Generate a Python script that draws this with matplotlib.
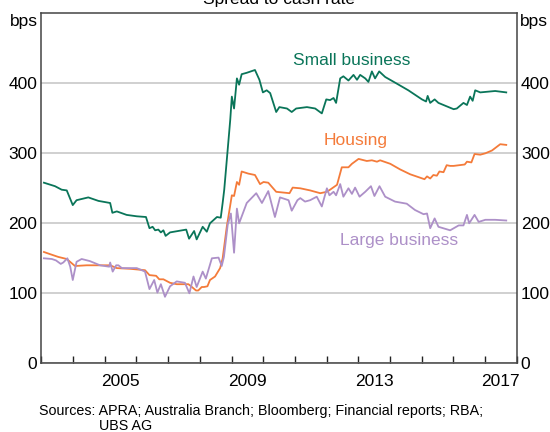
import matplotlib
matplotlib.use("Agg")
import matplotlib.pyplot as plt

plt.rcParams['font.family'] = ['Liberation Sans', 'DejaVu Sans']

# (year, bps)
small_business = [
    (2003.08, 258), (2003.43, 253), (2003.64, 248), (2003.80, 247), (2003.99, 226),
    (2004.11, 233), (2004.48, 237), (2004.80, 232), (2005.17, 229), (2005.24, 215),
    (2005.38, 217), (2005.69, 212), (2006.01, 210), (2006.30, 209), (2006.41, 193),
    (2006.51, 195), (2006.59, 190), (2006.69, 191), (2006.77, 187), (2006.85, 190),
    (2006.92, 182), (2007.06, 187), (2007.57, 191), (2007.66, 178), (2007.82, 189),
    (2007.90, 177), (2008.09, 195), (2008.22, 188), (2008.32, 200), (2008.54, 209),
    (2008.66, 208), (2008.72, 229), (2008.77, 248), (2008.85, 290), (2008.96, 348),
    (2009.01, 381), (2009.08, 364), (2009.17, 407), (2009.24, 398), (2009.32, 413),
    (2009.48, 415), (2009.74, 419), (2009.88, 405), (2009.99, 387), (2010.11, 390),
    (2010.22, 386), (2010.41, 359), (2010.51, 366), (2010.75, 364), (2010.90, 359),
    (2011.04, 364), (2011.38, 366), (2011.64, 364), (2011.85, 357), (2011.99, 377),
    (2012.11, 376), (2012.22, 379), (2012.30, 372), (2012.43, 407), (2012.53, 410),
    (2012.69, 404), (2012.85, 412), (2012.96, 405), (2013.06, 412), (2013.22, 407),
    (2013.32, 402), (2013.43, 417), (2013.53, 407), (2013.66, 417), (2013.85, 409),
    (2014.16, 401), (2014.58, 390), (2015.01, 377), (2015.14, 374), (2015.19, 382),
    (2015.27, 372), (2015.41, 377), (2015.53, 372), (2016.01, 363), (2016.11, 364),
    (2016.32, 372), (2016.43, 369), (2016.53, 381), (2016.61, 375), (2016.69, 390),
    (2016.85, 387), (2017.32, 389), (2017.67, 387),
]

housing = [
    (2003.08, 159), (2003.27, 156), (2003.53, 152), (2003.80, 149), (2004.06, 139),
    (2004.43, 140), (2004.85, 140), (2005.17, 140), (2005.38, 136), (2005.80, 135),
    (2006.27, 133), (2006.41, 126), (2006.62, 125), (2006.72, 120), (2006.85, 120),
    (2007.06, 115), (2007.27, 113), (2007.64, 113), (2007.75, 109), (2007.88, 104),
    (2007.95, 104), (2008.06, 109), (2008.13, 109), (2008.24, 110), (2008.32, 119),
    (2008.48, 124), (2008.64, 136), (2008.72, 150), (2008.85, 195), (2009.01, 240),
    (2009.08, 239), (2009.17, 259), (2009.24, 255), (2009.32, 274), (2009.53, 271),
    (2009.74, 269), (2009.90, 256), (2010.01, 259), (2010.16, 258), (2010.41, 245),
    (2010.83, 243), (2010.93, 251), (2011.17, 250), (2011.48, 247), (2011.80, 243),
    (2012.01, 245), (2012.11, 248), (2012.33, 255), (2012.48, 280), (2012.69, 280),
    (2012.80, 285), (2013.01, 292), (2013.27, 289), (2013.43, 290), (2013.59, 288),
    (2013.69, 290), (2014.01, 285), (2014.32, 277), (2014.64, 270), (2015.09, 263),
    (2015.17, 267), (2015.27, 264), (2015.37, 269), (2015.48, 268), (2015.56, 274),
    (2015.69, 273), (2015.79, 283), (2015.90, 282), (2016.01, 282), (2016.36, 284),
    (2016.43, 288), (2016.57, 287), (2016.67, 299), (2016.85, 298), (2017.01, 300),
    (2017.22, 304), (2017.48, 313), (2017.67, 312),
]

large_business = [
    (2003.08, 150), (2003.33, 149), (2003.46, 147), (2003.61, 142), (2003.69, 144),
    (2003.82, 150), (2003.91, 138), (2003.99, 119), (2004.11, 145), (2004.27, 149),
    (2004.53, 146), (2004.85, 140), (2005.14, 138), (2005.17, 144), (2005.25, 131),
    (2005.36, 140), (2005.43, 140), (2005.54, 136), (2006.01, 136), (2006.27, 131),
    (2006.41, 106), (2006.56, 119), (2006.66, 101), (2006.77, 113), (2006.90, 95),
    (2007.06, 110), (2007.27, 117), (2007.53, 115), (2007.67, 100), (2007.80, 124),
    (2007.90, 109), (2008.09, 131), (2008.19, 121), (2008.38, 150), (2008.59, 151),
    (2008.69, 139), (2008.76, 152), (2008.88, 198), (2008.98, 214), (2009.08, 158),
    (2009.17, 221), (2009.24, 200), (2009.48, 229), (2009.78, 243), (2009.96, 229),
    (2010.16, 246), (2010.37, 209), (2010.53, 237), (2010.80, 233), (2010.90, 218),
    (2011.08, 233), (2011.17, 236), (2011.32, 231), (2011.48, 233), (2011.69, 238),
    (2011.85, 224), (2012.01, 250), (2012.09, 240), (2012.22, 245), (2012.30, 240),
    (2012.43, 256), (2012.53, 238), (2012.69, 250), (2012.80, 242), (2012.90, 251),
    (2013.04, 238), (2013.22, 245), (2013.40, 253), (2013.51, 239), (2013.67, 253),
    (2013.85, 238), (2014.16, 231), (2014.53, 228), (2014.79, 219), (2015.06, 213),
    (2015.17, 214), (2015.27, 193), (2015.41, 207), (2015.53, 195), (2015.90, 190),
    (2016.17, 197), (2016.32, 197), (2016.43, 212), (2016.50, 200), (2016.67, 212),
    (2016.80, 202), (2017.01, 205), (2017.32, 205), (2017.67, 204),
]

year_labels = [2005, 2009, 2013, 2017]
y_ticks = [0, 100, 200, 300, 400]

GREEN = '#0a7559'
ORANGE = '#f47b3a'
PURPLE = '#ad90c8'
FS = 12.5

fig = plt.figure(figsize=(5.5, 4.32), dpi=100)
ax = fig.add_axes([41.4 / 550, 1 - 363.3 / 432, 475.3 / 550, 350 / 432])

for series, col in [(small_business, GREEN), (housing, ORANGE), (large_business, PURPLE)]:
    xs = [p[0] for p in series]
    ys = [p[1] for p in series]
    ax.plot(xs, ys, color=col, lw=1.3)

ax.set_xlim(2003, 2018)
ax.set_ylim(0, 500)

# year boundaries get the tick marks, labels sit mid-year
ax.set_xticks(range(2003, 2019))
ax.set_xticklabels([])
ax.set_xticks([y + 0.5 for y in year_labels], minor=True)
ax.set_xticklabels([str(y) for y in year_labels], minor=True)
ax.tick_params(axis='x', which='major', direction='in', length=5, width=1, color='#222222')
ax.tick_params(axis='x', which='minor', length=0, pad=8, labelsize=FS)

ax.set_yticks(y_ticks)
ax.tick_params(axis='y', length=0, labelsize=FS, labelright=True, pad=3)
ax.yaxis.grid(True, color='#c8c8c8', lw=1.2)
ax.set_axisbelow(True)

for s in ax.spines.values():
    s.set_color('#444444')
    s.set_linewidth(1.1)

ax.text(-0.008, 0.997, 'bps', transform=ax.transAxes, ha='right', va='top', fontsize=FS)
ax.text(1.006, 0.997, 'bps', transform=ax.transAxes, ha='left', va='top', fontsize=FS)

ax.text(2012.8, 432, 'Small business', color=GREEN, ha='center', va='center', fontsize=FS)
ax.text(2012.93, 319, 'Housing', color=ORANGE, ha='center', va='center', fontsize=FS)
ax.text(2014.29, 176, 'Large business', color=PURPLE, ha='center', va='center', fontsize=FS)

fig.text(279 / 550, 1 - 4 / 432, 'Spread to cash rate', ha='center', va='baseline', fontsize=FS)

fig.text(39.3 / 550, 1 - 415.5 / 432, 'Sources: APRA; Australia Branch; Bloomberg; Financial reports; RBA;',
         ha='left', va='baseline', fontsize=10.3)
fig.text(99.3 / 550, 1 - 430.5 / 432, 'UBS AG', ha='left', va='baseline', fontsize=10.3)

fig.savefig('out.png', dpi=100)
